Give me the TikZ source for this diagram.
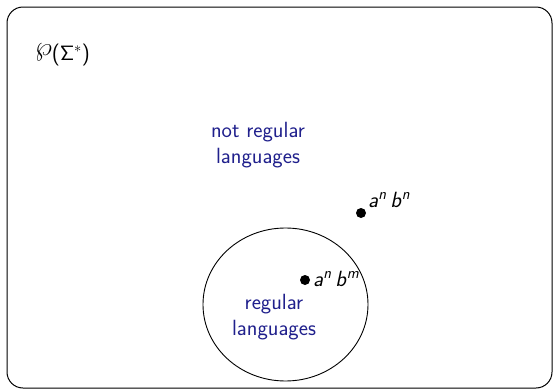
\documentclass[tikz,border=0pt]{standalone}
\usepackage{fontspec}
\usepackage{amsmath}
\usepackage{graphicx}
\usetikzlibrary{shapes.geometric}
\renewcommand{\familydefault}{\sfdefault}
\definecolor{navy}{RGB}{32,32,140}
\newcommand{\sv}[1]{\textsf{\itshape #1}}
\newcommand{\sfSigma}{{\usefont{OT1}{cmss}{m}{n}\char6}}
\begin{document}
\begin{tikzpicture}[x=1pt,y=-1pt,
  txt/.style={font=\fontsize{22}{26}\selectfont\sffamily, inner sep=0pt},
  blue/.style={txt, text=navy, align=center},
  dotn/.style={circle, fill=black, inner sep=0pt, minimum size=10pt},
  lbl/.style={txt, anchor=base west}]
\useasboundingbox (0,0) rectangle (558,391);
\draw[line width=1pt, rounded corners=16pt] (7,7) rectangle (552,388);
\node[txt, anchor=base] (P) at (62.5,60) {\raisebox{4.5pt}{\scalebox{1.3}{$\wp$}}(\sfSigma\textsuperscript{$*$})};
\node[blue] (nr) at (258,145) {not regular\\languages};
\node[draw, line width=0.9pt, ellipse, minimum width=165pt, minimum height=153pt, inner sep=0pt] (reg) at (285.5,304.5) {};
\node[blue] (rl) at (274,317) {regular\\languages};
\node[dotn] (d1) at (361,213) {};
\node[lbl] (l1) at (368,207) {\sv{a}\textsuperscript{\sv{n}}\,\sv{b}\textsuperscript{\sv{n}}};
\node[dotn] (d2) at (305,280) {};
\node[lbl] (l2) at (313,286) {\sv{a}\textsuperscript{\sv{n}}\,\sv{b}\textsuperscript{\sv{m}}};
\end{tikzpicture}
\end{document}
